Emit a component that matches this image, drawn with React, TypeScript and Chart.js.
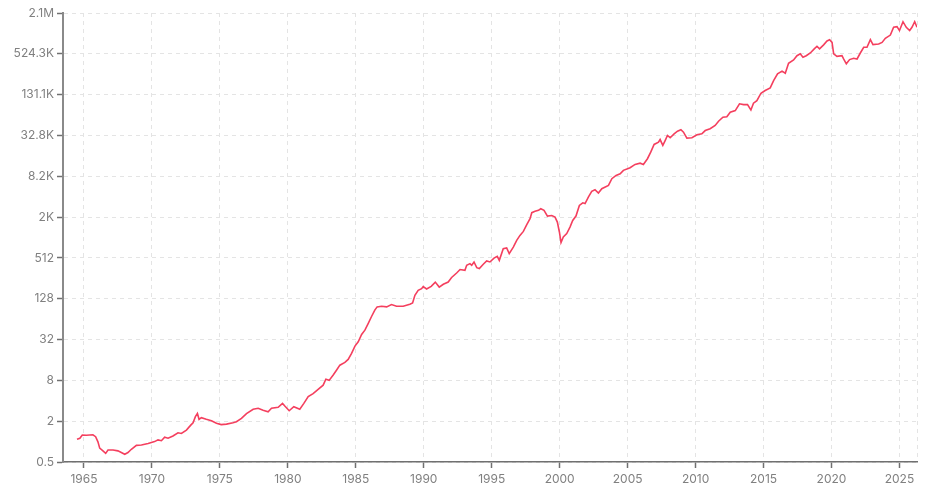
import React, { useEffect, useRef } from "react";
import { Chart, registerables } from "chart.js";

Chart.register(...registerables);

const dates: number[] = [
  1964.49, 1964.7, 1964.88, 1965.18, 1965.66, 1965.86, 1966.03, 1966.16, 1966.4, 1966.6,
  1966.77, 1967.14, 1967.5, 1967.75, 1968.0, 1968.24, 1968.49, 1968.86, 1969.23, 1969.72,
  1970.2, 1970.45, 1970.7, 1970.94, 1971.19, 1971.55, 1971.92, 1972.17, 1972.54, 1972.86,
  1973.03, 1973.2, 1973.35, 1973.47, 1973.64, 1974.0, 1974.38, 1974.75, 1975.1, 1975.49,
  1975.97, 1976.22, 1976.59, 1976.96, 1977.45, 1977.82, 1978.18, 1978.55, 1978.8, 1979.29,
  1979.61, 1979.78, 1980.1, 1980.44, 1980.88, 1981.18, 1981.5, 1981.86, 1982.23, 1982.6,
  1982.8, 1983.04, 1983.34, 1983.58, 1983.83, 1984.2, 1984.44, 1984.69, 1984.94, 1985.18,
  1985.43, 1985.67, 1985.91, 1986.16, 1986.4, 1986.57, 1986.9, 1987.27, 1987.63, 1988.0,
  1988.49, 1988.98, 1989.18, 1989.35, 1989.59, 1989.84, 1989.96, 1990.21, 1990.55, 1990.85,
  1991.14, 1991.44, 1991.8, 1992.05, 1992.42, 1992.67, 1993.03, 1993.16, 1993.4, 1993.53,
  1993.7, 1993.9, 1994.09, 1994.38, 1994.63, 1994.87, 1995.17, 1995.41, 1995.56, 1995.85,
  1996.1, 1996.29, 1996.59, 1996.84, 1997.08, 1997.33, 1997.58, 1997.82, 1997.95, 1998.19,
  1998.44, 1998.61, 1998.85, 1999.1, 1999.42, 1999.66, 1999.83, 1999.98, 2000.1, 2000.27,
  2000.52, 2000.76, 2000.96, 2001.2, 2001.45, 2001.7, 2001.87, 2002.11, 2002.36, 2002.6,
  2002.85, 2003.1, 2003.59, 2003.84, 2004.15, 2004.45, 2004.69, 2005.18, 2005.55, 2005.92,
  2006.16, 2006.46, 2006.7, 2006.95, 2007.27, 2007.39, 2007.59, 2007.76, 2007.93, 2008.13,
  2008.42, 2008.67, 2008.92, 2009.11, 2009.36, 2009.73, 2010.1, 2010.46, 2010.71, 2011.07,
  2011.44, 2011.69, 2012.01, 2012.3, 2012.55, 2012.92, 2013.23, 2013.53, 2013.82, 2014.07,
  2014.26, 2014.51, 2014.81, 2015.12, 2015.49, 2015.74, 2016.03, 2016.36, 2016.6, 2016.84,
  2017.21, 2017.46, 2017.7, 2017.9, 2018.14, 2018.44, 2018.73, 2018.93, 2019.12, 2019.42,
  2019.67, 2019.86, 2020.04, 2020.16, 2020.4, 2020.77, 2020.89, 2021.09, 2021.33, 2021.63,
  2021.88, 2022.12, 2022.37, 2022.61, 2022.86, 2023.05, 2023.47, 2023.72, 2023.96, 2024.33,
  2024.57, 2024.82, 2025.0, 2025.26, 2025.5, 2025.75, 2025.92, 2026.12, 2026.29,
];

const values: number[] = [
  1.08, 1.12, 1.25, 1.24, 1.26, 1.18, 0.99, 0.8, 0.73, 0.67,
  0.75, 0.75, 0.73, 0.69, 0.65, 0.69, 0.77, 0.88, 0.89, 0.94,
  1.0, 1.06, 1.03, 1.16, 1.12, 1.21, 1.35, 1.32, 1.48, 1.75,
  1.9, 2.33, 2.6, 2.13, 2.25, 2.13, 2.03, 1.86, 1.78, 1.81,
  1.9, 1.96, 2.2, 2.58, 3.0, 3.1, 2.9, 2.75, 3.1, 3.2,
  3.66, 3.34, 2.85, 3.27, 3.0, 3.66, 4.6, 5.1, 5.9, 6.8,
  8.3, 8.0, 9.6, 11.3, 13.4, 14.7, 16.3, 20, 25.6, 29.6,
  38, 44, 55, 70, 87, 97, 99, 97, 105, 99,
  99, 106, 111, 144, 170, 180, 193, 178, 195, 225,
  190, 209, 226, 263, 307, 345, 336, 399, 422, 399,
  446, 367, 357, 413, 461, 446, 508, 541, 471, 700,
  720, 592, 740, 929, 1100, 1260, 1585, 1940, 2380, 2490,
  2580, 2720, 2580, 2120, 2165, 2048, 1730, 1235, 861, 1040,
  1170, 1460, 1830, 2120, 3040, 3330, 3240, 4040, 4905, 5184,
  4640, 5367, 5997, 7540, 8420, 8900, 10010, 10960, 12250, 12770,
  12250, 14870, 18560, 24150, 26060, 28520, 23330, 27550, 32770, 30360,
  34640, 37900, 39780, 36600, 29940, 30360, 33460, 34640, 38700, 41200,
  46000, 53200, 60800, 61800, 72200, 76300, 96000, 93300, 93300, 77900,
  98000, 107000, 137500, 150500, 164700, 211000, 265500, 291000, 271000, 381000,
  425000, 492000, 524000, 466000, 492000, 539000, 620000, 677000, 620000, 711000,
  811000, 847000, 773000, 524000, 482000, 492000, 440000, 373000, 431000, 450000,
  440000, 539000, 654000, 654000, 847000, 716000, 731000, 773000, 888000, 991000,
  1290000, 1320000, 1155000, 1560000, 1290000, 1155000, 1290000, 1560000, 1290000,
];

const xTickYears: number[] = [1965, 1970, 1975, 1980, 1985, 1990, 1995, 2000, 2005, 2010, 2015, 2020, 2025];
const yTickValues: number[] = [0.5, 2, 8, 32, 128, 512, 2048, 8192, 32768, 131072, 524288, 2097152];
const yTickLabels: string[] = ["0.5", "2", "8", "32", "128", "512", "2K", "8.2K", "32.8K", "131.1K", "524.3K", "2.1M"];

const X_MIN = 1963.46;
const X_MAX = 2026.29;

export default function App() {
  const ref = useRef<HTMLCanvasElement | null>(null);

  useEffect(() => {
    if (!ref.current) return;
    const points = dates.map((d, i) => ({ x: d, y: values[i] }));
    const font = { family: "Inter, 'Noto Sans', sans-serif", size: 12 };
    const chart = new Chart(ref.current, {
      type: "line",
      data: {
        datasets: [
          {
            data: points,
            borderColor: "#f43f5e",
            backgroundColor: "#f43f5e",
            borderWidth: 1.6,
            pointRadius: 0,
            tension: 0,
            fill: false,
          },
        ],
      },
      options: {
        animation: false,
        responsive: false,
        devicePixelRatio: 1,
        parsing: false as any,
        layout: { padding: { left: 0, top: 13, right: 24, bottom: 0 } },
        plugins: { legend: { display: false }, tooltip: { enabled: false } },
        scales: {
          x: {
            type: "linear",
            min: X_MIN,
            max: X_MAX,
            afterBuildTicks: (scale: any) => {
              scale.ticks = [...xTickYears.map((v) => ({ value: v })), { value: X_MAX }];
            },
            afterFit: (scale: any) => {
              scale.height = 42;
            },
            ticks: {
              autoSkip: false,
              maxRotation: 0,
              padding: 4,
              color: "#808080",
              font,
              callback: (v: any) => (xTickYears.includes(Number(v)) ? String(v) : ""),
            },
            grid: {
              color: "#e4e4e4",
              lineWidth: 1,
              drawTicks: true,
              tickLength: 6,
              tickWidth: 1.5,
              tickColor: (ctx: any) => (ctx.tick && ctx.tick.value === X_MAX ? "rgba(0,0,0,0)" : "#707070"),
            },
            border: { display: true, color: "#707070", width: 1.5, dash: [4, 4] },
          },
          y: {
            type: "logarithmic",
            min: 0.5,
            max: 2097152,
            afterBuildTicks: (scale: any) => {
              scale.ticks = yTickValues.map((v) => ({ value: v }));
            },
            afterFit: (scale: any) => {
              scale.width = 63;
            },
            ticks: {
              autoSkip: false,
              padding: 3,
              color: "#808080",
              font,
              callback: (_v: any, i: number) => yTickLabels[i],
            },
            grid: {
              color: "#e4e4e4",
              lineWidth: 1,
              drawTicks: true,
              tickLength: 6,
              tickWidth: 1.5,
              tickColor: "#707070",
            },
            border: { display: true, color: "#8a8a8a", width: 2, dash: [4, 4] },
          },
        },
      },
    });
    return () => chart.destroy();
  }, []);

  return (
    <div style={{ position: "absolute", left: 0, top: 0, width: 941, height: 504, background: "#fff" }}>
      <canvas ref={ref} width={941} height={504} style={{ display: "block", width: 941, height: 504 }} />
    </div>
  );
}
